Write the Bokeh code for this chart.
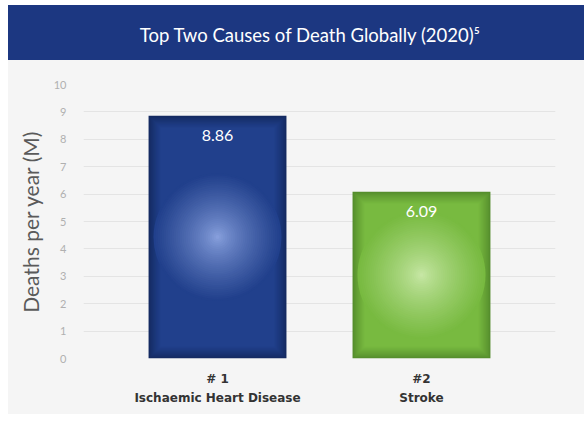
from bokeh.plotting import figure
from bokeh.layouts import column
from bokeh.models import Range1d, FixedTicker, LinearAxis
from bokeh.core.properties import value
from bokeh.embed import file_html
from bokeh.resources import INLINE

# ---- data ----
title_text = "Top Two Causes of Death Globally (2020)\u2075"
rank_labels = ["# 1", "#2"]
causes = ["Ischaemic Heart Disease", "Stroke"]
deaths = [8.86, 6.09]
y_ticks = [0, 1, 2, 3, 4, 5, 6, 7, 8, 9, 10]
y_label = "Deaths per year (M)"

# ---- styling ----
BAND = "#1c3781"
BG = "#f5f5f5"
GRID = "#e4e4e4"
bar_colors = [  # (light centre, body, dark edge)
    ((142, 166, 226), (33, 64, 140), (20, 42, 96)),
    ((204, 234, 172), (120, 186, 64), (84, 140, 44)),
]

xs = [i + 1 for i in range(len(deaths))]
X0, X1 = 0.343, 2.657
Y0, Y1 = 0, 10
BAR_W = 0.676
FRAME_W, FRAME_H = 472, 274
FIG_W = 576

top = figure(width=FIG_W, height=55, x_range=(0, 1), y_range=(0, 1),
             toolbar_location=None, output_backend="svg", min_border=0,
             x_axis_type=None, y_axis_type=None,
             background_fill_color=None, border_fill_color=None,
             outline_line_color=None)
top.styles = {"background-color": BAND}
top.grid.visible = False
top.text(x=[0.481], y=[0.47], text=[title_text], text_align="center",
         text_baseline="middle", text_color="white",
         text_font=value("Lato"), text_font_size="18.5px")

p = figure(width=FIG_W, height=354, x_range=Range1d(X0, X1), y_range=Range1d(Y0, Y1),
           toolbar_location=None, output_backend="svg",
           min_border_left=75, min_border_right=29, min_border_top=24,
           min_border_bottom=56, x_axis_type=None,
           background_fill_color=None, border_fill_color=None, outline_line_color=None)
p.styles = {"background-color": BG}

# y axis
ya = p.yaxis[0]
ya.ticker = FixedTicker(ticks=y_ticks)
ya.axis_line_color = None
ya.major_tick_line_color = None
ya.minor_tick_line_color = None
ya.major_label_text_color = "#b0b0b0"
ya.major_label_text_font = "Lato"
ya.major_label_text_font_size = "11px"
ya.major_label_standoff = 11
ya.axis_label = y_label
ya.axis_label_text_font = "Lato"
ya.axis_label_text_font_style = "normal"
ya.axis_label_text_font_size = "21px"
ya.axis_label_text_color = "#5a5a5a"
ya.axis_label_standoff = 8

p.xgrid.visible = False
p.ygrid.ticker = FixedTicker(ticks=y_ticks)
p.ygrid.grid_line_color = GRID

# x axes (two stacked rows of labels)
for labels, standoff in ((rank_labels, 7), (causes, -4)):
    ax = LinearAxis(ticker=FixedTicker(ticks=xs),
                    major_label_overrides={x: l for x, l in zip(xs, labels)})
    ax.axis_line_color = None
    ax.major_tick_line_color = None
    ax.minor_tick_line_color = None
    ax.major_label_text_color = "#333333"
    ax.major_label_text_font = "DejaVu Sans"
    ax.major_label_text_font_style = "bold"
    ax.major_label_text_font_size = "12px"
    ax.major_label_standoff = standoff
    p.add_layout(ax, "below")

# bars
p.vbar(x=xs, top=deaths, width=BAR_W, bottom=0,
       fill_color=["#%02x%02x%02x" % c[2] for c in bar_colors], line_color=None)

px_x = FRAME_W / (X1 - X0)
px_y = FRAME_H / (Y1 - Y0)


def mix(a, b, f):
    return tuple(int(round(a[k] + (b[k] - a[k]) * f)) for k in range(3))


def hexc(c):
    return "#%02x%02x%02x" % c


EDGE_PX = 12   # darkening band along bar edges
M = 12
SPOT_PX = 64   # radius of the light spot
N = 32
for x, v, (light, body, dark) in zip(xs, deaths, bar_colors):
    # edge fade: nested rectangles
    rx, rt, rb, rw, rc = [], [], [], [], []
    for k in range(1, M + 1):
        d = EDGE_PX * k / M
        rx.append(x)
        rw.append(BAR_W - 2 * d / px_x)
        rb.append(d / px_y)
        rt.append(v - d / px_y)
        rc.append(hexc(mix(dark, body, (k / M) ** 0.8)))
    p.vbar(x=rx, top=rt, bottom=rb, width=rw, fill_color=rc, line_color=None)
    # light spot: concentric circles
    ex, ey, ew, eh, ec = [], [], [], [], []
    for k in range(N, 0, -1):
        t = k / N
        r = SPOT_PX * t
        ex.append(x)
        ey.append(v / 2)
        ew.append(2 * r / px_x)
        eh.append(2 * r / px_y)
        ec.append(hexc(mix(light, body, t ** 0.75)))
    p.ellipse(x=ex, y=ey, width=ew, height=eh, fill_color=ec, line_color=None)

# value labels
p.text(x=xs, y=deaths, text=["%.2f" % v for v in deaths], text_align="center",
       text_baseline="middle", y_offset=20, text_color="white",
       text_font=value("Lato"), text_font_size="16px")

layout = column(top, p, spacing=0)
layout.margin = (5, 0, 0, 8)

open("out.html", "w").write(file_html(layout, INLINE))
